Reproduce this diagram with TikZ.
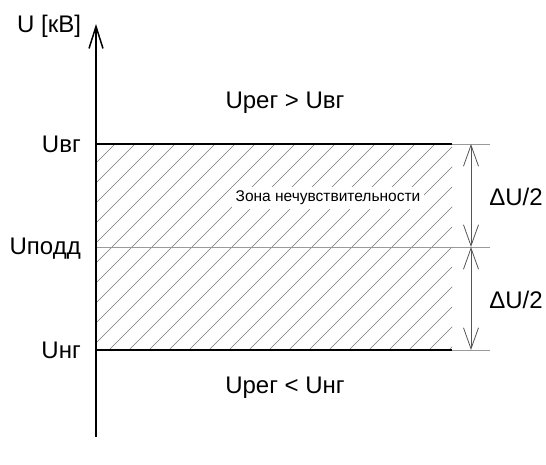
\documentclass[tikz,border=0pt]{standalone}
\usepackage{fontspec}
\setmainfont{Liberation Sans}
\usetikzlibrary{arrows.meta}
\definecolor{hatchgray}{HTML}{777777}
\definecolor{linegray}{HTML}{9A9A9A}
\definecolor{dimgray}{HTML}{555555}
\begin{document}
\begin{tikzpicture}[x=1pt,y=-1pt,
  lbl/.style={font=\fontsize{24}{28}\selectfont, inner sep=0pt},
  smalllbl/.style={font=\fontsize{15.5}{18}\selectfont, inner sep=4pt, fill=white},
  hatchline/.style={draw=hatchgray, line width=0.6pt},
  extline/.style={draw=linegray, line width=0.9pt},
  boundline/.style={draw=black, line width=2pt},
  axisline/.style={draw=black, line width=1.5pt, -{Straight Barb[length=22pt,width=14pt,line width=1.5pt]}},
  dimline/.style={draw=dimgray, line width=0.8pt, {Straight Barb[length=21pt,width=15pt]}-{Straight Barb[length=21pt,width=15pt]}}
]
\useasboundingbox (0,0) rectangle (546,465);

% hatching
\begin{scope}
  \clip (96,144) rectangle (452,350);
  \foreach \k in {0,...,27}
    \draw[hatchline] ({115+20*\k},144) -- ({115+20*\k-206},350);
\end{scope}

% coordinates
\coordinate (ax0) at (96,437);
\coordinate (ax1) at (96,24);
\coordinate (tl) at (96,144);
\coordinate (tr) at (452,144);
\coordinate (te) at (490,144);
\coordinate (ml) at (96,247);
\coordinate (me) at (490,247);
\coordinate (bl) at (96,350);
\coordinate (br) at (452,350);
\coordinate (be) at (490,350);
\coordinate (d1) at (471,144);
\coordinate (d2) at (471,247);
\coordinate (d3) at (471,350);

% lines
\draw[extline] (tl) -- (te);
\draw[extline] (ml) -- (me);
\draw[extline] (bl) -- (be);
\draw[boundline] (tl) -- (tr);
\draw[boundline] (bl) -- (br);

% axis
\draw[axisline] (ax0) -- (ax1);

% dimension arrows
\draw[dimline] (d1) -- (d2);
\draw[dimline] (d2) -- (d3);

% labels
\node[lbl, anchor=base west] (uax) at (17,33) {U [кВ]};
\node[lbl, anchor=base east] (uvg) at (81,153) {Uвг};
\node[lbl, anchor=base east] (upodd) at (81,254) {Uподд};
\node[lbl, anchor=base east] (ung) at (81,358) {Uнг};
\node[lbl, anchor=base] (above) at (285,108.5) {Uрег > Uвг};
\node[lbl, anchor=base] (below) at (285,393) {Uрег < Uнг};
\node[lbl, anchor=base] (du1) at (516,206) {ΔU/2};
\node[lbl, anchor=base] (du2) at (516,308) {ΔU/2};
\node[smalllbl, anchor=base] (zone) at (328,202) {Зона нечувствительности};
\end{tikzpicture}
\end{document}
